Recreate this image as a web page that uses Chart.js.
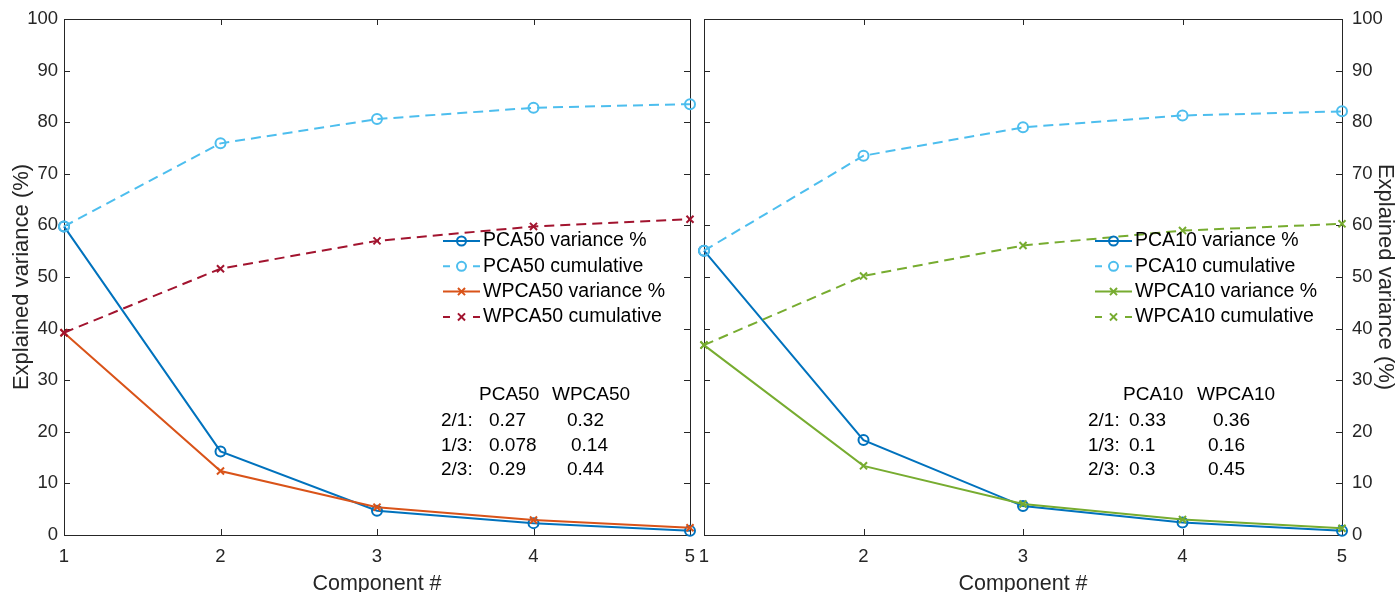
<!DOCTYPE html>
<html>
<head>
<meta charset="utf-8">
<title>PCA vs WPCA explained variance</title>
<script src="https://cdn.jsdelivr.net/npm/chart.js@4.4.1/dist/chart.umd.min.js"></script>
<style>
  html, body { margin: 0; padding: 0; background: #fff; overflow: hidden; }
  #wrap { position: relative; width: 1398px; height: 592px; }
  .panel { position: absolute; top: 0; height: 592px; }
  #leftPanel { left: 0; width: 697px; }
  #rightPanel { left: 697px; width: 701px; }
</style>
</head>
<body>
<div id="wrap">
  <div class="panel" id="leftPanel"><canvas id="leftChart"></canvas></div>
  <div class="panel" id="rightPanel"><canvas id="rightChart"></canvas></div>
</div>
<script>
// Component numbers on the x axis
const components = ["1", "2", "3", "4", "5"];

// Left panel (50 components)
const pca50Variance = [59.8, 16.2, 4.7, 2.3, 0.8];
const pca50Cumulative = [59.8, 75.9, 80.6, 82.8, 83.5];
const wpca50Variance = [39.2, 12.4, 5.4, 2.9, 1.4];
const wpca50Cumulative = [39.2, 51.6, 57.0, 59.8, 61.2];

// Right panel (10 components)
const pca10Variance = [55.1, 18.4, 5.6, 2.4, 0.8];
const pca10Cumulative = [55.1, 73.5, 79.0, 81.3, 82.1];
const wpca10Variance = [36.8, 13.4, 6.0, 3.0, 1.3];
const wpca10Cumulative = [36.8, 50.2, 56.1, 59.0, 60.3];

// Ratio tables
const ratioLabels = ["2/1:", "1/3:", "2/3:"];
const pca50Ratios = ["0.27", "0.078", "0.29"];
const wpca50Ratios = ["0.32", "0.14", "0.44"];
const pca10Ratios = ["0.33", "0.1", "0.3"];
const wpca10Ratios = ["0.36", "0.16", "0.45"];

const FONT = "'Liberation Sans', Arial, Helvetica, sans-serif";
const AXIS_COLOR = "#262626";

const BLUE = "#0072BD";
const ORANGE = "#D95319";
const LIGHT_BLUE = "#4DBEEE";
const DARK_RED = "#A2142F";
const GREEN = "#77AC30";

function makeDataset(label, data, color, dashed, marker, order) {
  return {
    label: label,
    data: data,
    borderColor: color,
    backgroundColor: "rgba(0,0,0,0)",
    borderWidth: 2,
    borderDash: dashed ? [10, 6] : [],
    tension: 0,
    pointStyle: marker,
    pointRadius: 5,
    pointBorderWidth: 2,
    pointBorderColor: color,
    pointBackgroundColor: "rgba(0,0,0,0)",
    pointHoverRadius: 5,
    clip: false,
    order: order
  };
}

// draw a marker like the data points, for the legend samples
function drawMarker(ctx, style, x, y, r) {
  ctx.beginPath();
  if (style === "circle") {
    ctx.arc(x, y, r, 0, Math.PI * 2);
  } else {
    const d = r * Math.SQRT1_2;
    ctx.moveTo(x - d, y - d);
    ctx.lineTo(x + d, y + d);
    ctx.moveTo(x + d, y - d);
    ctx.lineTo(x - d, y + d);
  }
  ctx.stroke();
}

// Box round the plot with inward ticks on all four sides
const frameAndTicks = {
  id: "frameAndTicks",
  beforeDatasetsDraw(chart) {
    const { ctx, chartArea: a, scales } = chart;
    const x = scales.x;
    const y = scales.y;
    const len = 6;
    ctx.save();
    ctx.strokeStyle = AXIS_COLOR;
    ctx.lineWidth = 1;
    ctx.strokeRect(a.left + 0.5, a.top + 0.5, a.right - a.left, a.bottom - a.top);
    ctx.beginPath();
    y.ticks.forEach((t) => {
      const py = Math.round(y.getPixelForValue(t.value)) + 0.5;
      ctx.moveTo(a.left, py);
      ctx.lineTo(a.left + len, py);
      ctx.moveTo(a.right, py);
      ctx.lineTo(a.right - len, py);
    });
    x.ticks.forEach((t, i) => {
      const px = Math.round(x.getPixelForTick(i)) + 0.5;
      ctx.moveTo(px, a.bottom);
      ctx.lineTo(px, a.bottom - len);
      ctx.moveTo(px, a.top);
      ctx.lineTo(px, a.top + len);
    });
    ctx.stroke();
    ctx.restore();
  }
};

// Legend, ratio table and x axis title
const panelText = {
  id: "panelText",
  afterDraw(chart, args, opts) {
    const { ctx, chartArea: a } = chart;
    ctx.save();

    // x axis title
    ctx.fillStyle = AXIS_COLOR;
    ctx.font = "21.5px " + FONT;
    ctx.textAlign = "center";
    ctx.textBaseline = "middle";
    ctx.fillText("Component #", (a.left + a.right) / 2, 584);

    // legend
    const lg = opts.legend;
    ctx.textAlign = "left";
    ctx.font = "19.5px " + FONT;
    chart.data.datasets.forEach((ds, i) => {
      const ly = lg.y + i * lg.dy;
      const mid = (lg.x0 + lg.x1) / 2;
      ctx.strokeStyle = ds.borderColor;
      ctx.lineWidth = 2;
      ctx.beginPath();
      if (ds.borderDash.length) {
        ctx.moveTo(lg.x0, ly);
        ctx.lineTo(lg.x0 + 7, ly);
        ctx.moveTo(lg.x1 - 7, ly);
        ctx.lineTo(lg.x1, ly);
      } else {
        ctx.moveTo(lg.x0, ly);
        ctx.lineTo(lg.x1, ly);
      }
      ctx.stroke();
      drawMarker(ctx, ds.pointStyle, mid, ly, ds.pointStyle === "circle" ? 4.5 : 5);
      ctx.fillStyle = "#000";
      ctx.fillText(ds.label, lg.textX, ly);
    });

    // ratio table
    const tb = opts.table;
    ctx.font = "19px " + FONT;
    ctx.fillStyle = "#000";
    ctx.fillText(tb.header[0], tb.headerX[0], tb.headerY);
    ctx.fillText(tb.header[1], tb.headerX[1], tb.headerY);
    ratioLabels.forEach((lab, i) => {
      const ry = tb.rowY[i];
      ctx.fillText(lab, tb.labelX, ry);
      ctx.fillText(tb.col1[i], tb.col1X, ry);
      ctx.fillText(tb.col2[i], tb.col2X[i], ry);
    });
    ctx.restore();
  }
};

function makeChart(canvasId, datasets, side, decor) {
  const left = side === "left";
  return new Chart(document.getElementById(canvasId), {
    type: "line",
    data: { labels: components, datasets: datasets },
    options: {
      responsive: true,
      maintainAspectRatio: false,
      animation: false,
      events: [],
      layout: {
        padding: left ? { top: 19, right: 7, bottom: 0, left: 0 } : { top: 19, right: 0, bottom: 0, left: 7 }
      },
      scales: {
        x: {
          type: "category",
          offset: false,
          grid: { display: false, drawTicks: false },
          border: { display: false },
          ticks: { color: AXIS_COLOR, font: { family: FONT, size: 18.5 }, padding: 11, maxRotation: 0, autoSkip: false },
          afterFit(s) {
            s.height = 57;
            s.paddingLeft = 0;
            s.paddingRight = 0;
          }
        },
        y: {
          position: side,
          min: 0,
          max: 100,
          grid: { display: false, drawTicks: false },
          border: { display: false },
          ticks: { stepSize: 10, color: AXIS_COLOR, font: { family: FONT, size: 18.5 }, padding: left ? 6 : 10 },
          title: {
            display: true,
            text: "Explained variance (%)",
            color: AXIS_COLOR,
            font: { family: FONT, size: 22 },
            padding: { top: left ? 8.5 : 0, bottom: 0 }
          },
          afterFit(s) {
            s.width = left ? 64 : 56;
            s.paddingTop = 0;
            s.paddingBottom = 0;
          }
        }
      },
      plugins: {
        legend: { display: false },
        tooltip: { enabled: false },
        panelText: decor
      }
    },
    plugins: [frameAndTicks, panelText]
  });
}

makeChart("leftChart", [
  makeDataset("PCA50 variance %", pca50Variance, BLUE, false, "circle", 3),
  makeDataset("PCA50 cumulative", pca50Cumulative, LIGHT_BLUE, true, "circle", 2),
  makeDataset("WPCA50 variance %", wpca50Variance, ORANGE, false, "crossRot", 1),
  makeDataset("WPCA50 cumulative", wpca50Cumulative, DARK_RED, true, "crossRot", 0)
], "left", {
  legend: { x0: 443, x1: 480, textX: 483, y: 241, dy: 25.3 },
  table: {
    header: ["PCA50", "WPCA50"], headerX: [479, 552], headerY: 395,
    labelX: 441, rowY: [421, 446, 470],
    col1: pca50Ratios, col1X: 489,
    col2: wpca50Ratios, col2X: [567, 571, 567]
  }
});

makeChart("rightChart", [
  makeDataset("PCA10 variance %", pca10Variance, BLUE, false, "circle", 3),
  makeDataset("PCA10 cumulative", pca10Cumulative, LIGHT_BLUE, true, "circle", 2),
  makeDataset("WPCA10 variance %", wpca10Variance, GREEN, false, "crossRot", 1),
  makeDataset("WPCA10 cumulative", wpca10Cumulative, GREEN, true, "crossRot", 0)
], "right", {
  legend: { x0: 398, x1: 435, textX: 438, y: 241, dy: 25.3 },
  table: {
    header: ["PCA10", "WPCA10"], headerX: [426, 500], headerY: 395,
    labelX: 391, rowY: [421, 446, 470],
    col1: pca10Ratios, col1X: 432,
    col2: wpca10Ratios, col2X: [516, 511, 511]
  }
});
</script>
</body>
</html>
